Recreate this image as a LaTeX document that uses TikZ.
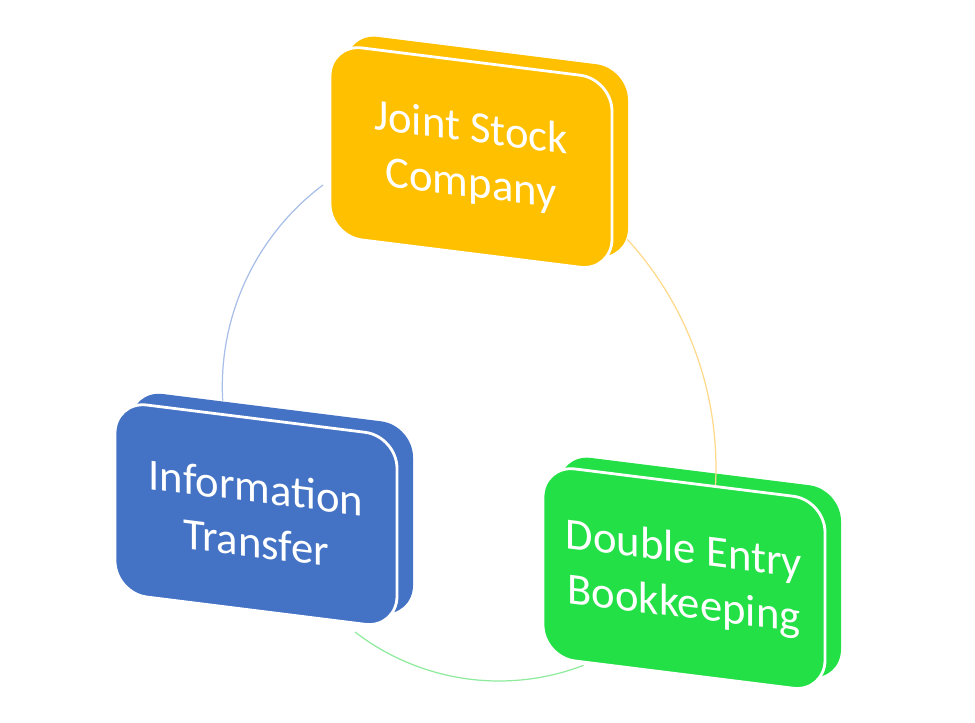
\documentclass[tikz,border=0pt]{standalone}
\usepackage{fontspec}
\setmainfont{Carlito}
\definecolor{jointgold}{HTML}{FFC000}
\definecolor{infoblue}{HTML}{4472C4}
\definecolor{entrygreen}{HTML}{23E047}
\definecolor{goldarc}{HTML}{FFD98A}
\definecolor{bluearc}{HTML}{A8BEE8}
\definecolor{greenarc}{HTML}{8EEB9E}
\tikzset{
  slab/.style={rectangle, rounded corners=0.32cm, minimum width=2.82cm,
    minimum height=1.92cm, inner sep=0pt, yslant=-0.125},
  face/.style={slab, draw=white, line width=0.8pt, text=white, align=center,
    font=\fontsize{12.7}{15.6}\selectfont},
  ring/.style={line width=0.35pt}
}
\begin{document}
\begin{tikzpicture}
\useasboundingbox (0,0) rectangle (9.75,7.23);

\node [slab, fill=jointgold](joint-back) at (4.87,5.764){};
\node [slab, fill=infoblue](info-back) at (2.72,2.193){};
\node [slab, fill=entrygreen](entry-back) at (7.00,1.554){};

\coordinate (info-top) at (3.23,5.38);
\coordinate (joint-right) at (6.273,4.836);
\coordinate (info-bottom) at (3.55,0.91);

\draw[ring, bluearc] (info-top) arc[start angle=126.9, end angle=183.2, radius=2.52];
\draw[ring, goldarc] (joint-right) arc[start angle=42.4, end angle=-2.9, radius=3.39];
\draw[ring, greenarc] (info-bottom) arc[start angle=232.4, end angle=291, radius=2.36];

\node [face, fill=jointgold](joint) at (4.71,5.654){Joint Stock\\Company};
\node [face, fill=infoblue](info) at (2.56,2.083){Information\\Transfer};
\node [face, fill=entrygreen](entry) at (6.84,1.444){Double Entry\\Bookkeeping};

\end{tikzpicture}
\end{document}
